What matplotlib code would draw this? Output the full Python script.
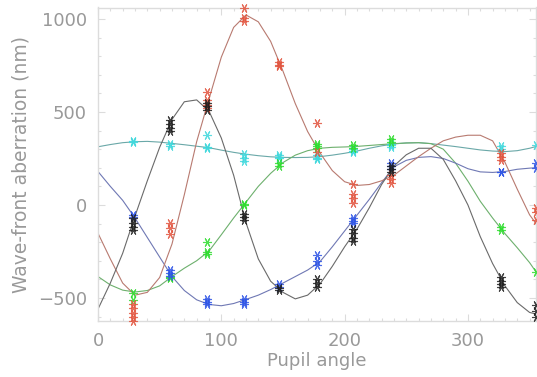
import matplotlib
matplotlib.use("Agg")
import matplotlib.pyplot as plt
from matplotlib.ticker import MultipleLocator

# fitted curves, every 10 deg (plus the end point)
curve_ang = [0, 10, 20, 30, 40, 50, 60, 70, 80, 90, 100, 110, 120, 130, 140, 150, 160, 170,
             180, 190, 200, 210, 220, 230, 240, 250, 260, 270, 280, 290, 300, 310, 320, 330,
             340, 350, 355]
black_fit = [-560, -420, -260, -60, 130, 310, 460, 555, 565, 505, 360, 160, -95, -290, -410, -470,
             -505, -485, -425, -330, -225, -130, -15, 110, 210, 270, 305, 305, 245, 130, 0, -170,
             -315, -435, -525, -578, -586]
red_fit = [-152, -290, -420, -485, -470, -390, -210, 55, 340, 570, 795, 955, 1022, 985, 880, 720,
           545, 395, 280, 185, 125, 105, 110, 130, 160, 210, 260, 305, 345, 365, 375, 375, 345, 230,
           85, -53, -98]
blue_fit = [180, 100, 25, -70, -175, -280, -385, -460, -510, -535, -542, -530, -508, -485, -455,
            -420, -385, -350, -305, -225, -140, -55, 30, 120, 205, 240, 256, 260, 250, 225, 195, 178,
            175, 180, 192, 198, 200]
green_fit = [-385, -430, -458, -468, -460, -435, -385, -340, -300, -248, -160, -70, 15, 100, 170,
             228, 268, 292, 305, 310, 312, 315, 320, 325, 330, 333, 335, 330, 300, 225, 128, 20, -70,
             -154, -230, -310, -358]
cyan_fit = [313, 325, 335, 340, 342, 338, 331, 324, 316, 308, 295, 283, 273, 265, 259, 256, 255,
            256, 260, 268, 278, 290, 305, 318, 328, 334, 335, 330, 322, 314, 305, 296, 290, 287, 292,
            305, 314]

# measured points at each pupil angle
meas_ang = [28, 58, 88, 118, 147, 178, 207, 238, 327, 355]
black_pts = [[-70, -97, -118, -134], [455, 435, 415, 400], [550, 530, 510], [-50, -65, -80],
             [-445, -455], [-400, -420, -440], [-130, -150, -175, -195], [210, 195, 180],
             [-390, -410, -425, -440], [-540, -570, -600]]
red_pts = [[-530, -555, -580, -605, -625], [-95, -125, -155], [605, 565, 540, 520],
           [1060, 1005, 990], [770, 755, 745], [440, 285], [115, 60, 35, 12], [160, 140, 120],
           [280, 260, 240], [-15, -40, -80]]
blue_pts = [[-55, -65], [-350, -365, -380], [-505, -520, -535], [-505, -520, -530], [-425, -440],
            [-270, -300, -325], [-70, -85, -95], [225, 210, 195], [180, 175], [225, 200]]
green_pts = [[-475, -511], [-385, -395], [-200, -255, -265], [5, 0], [225, 212], [330, 315, 305],
             [320, 305], [355, 340], [-120, -135], [-358]]
cyan_pts = [[345, 338], [330, 315], [375, 312, 305], [275, 255, 235], [270, 260, 252],
            [270, 255, 248], [300, 290, 283], [330, 320, 310], [315, 300], [325]]

series = [
    (cyan_fit, cyan_pts, "#6aa8a8", "#3fd8dc"),
    (green_fit, green_pts, "#6db06d", "#2edc2e"),
    (blue_fit, blue_pts, "#6f78b4", "#2f55e6"),
    (red_fit, red_pts, "#b87a70", "#e2553f"),
    (black_fit, black_pts, "#6a6a6a", "#202020"),
]

fig = plt.figure(figsize=(5.37, 3.77), dpi=100)
ax = fig.add_axes([98 / 537, 1 - 321 / 377, 438 / 537, 313.5 / 377])

for fit, pts, lc, mc in series:
    ax.plot(curve_ang, fit, color=lc, lw=0.8, zorder=2)
    for a, vals in zip(meas_ang, pts):
        ax.plot([a] * len(vals), vals, ls="none", marker=(6, 2, 90), ms=6.5, mew=0.8,
                color=mc, alpha=0.85, clip_on=False, zorder=3)

ax.set_xlim(0, 355.2)
ax.set_ylim(-624, 1062)
ax.xaxis.set_major_locator(MultipleLocator(100))
ax.xaxis.set_minor_locator(MultipleLocator(10))
ax.yaxis.set_major_locator(MultipleLocator(500))
ax.yaxis.set_minor_locator(MultipleLocator(100))

grey = "#dcdcdc"
txt = "#999999"
for s in ax.spines.values():
    s.set_color(grey)
    s.set_linewidth(1.0)
ax.tick_params(which="both", direction="in", top=True, right=True, colors=grey,
               labelcolor=txt, labelsize=13)
ax.tick_params(which="major", length=5, width=0.8, pad=8)
ax.tick_params(which="minor", length=2.5, width=0.8)

ax.set_xlabel("Pupil angle", color=txt, fontsize=13, labelpad=1)
ax.set_ylabel("Wave-front aberration (nm)", color=txt, fontsize=13.5, labelpad=5)

fig.savefig("out.png", dpi=100)
